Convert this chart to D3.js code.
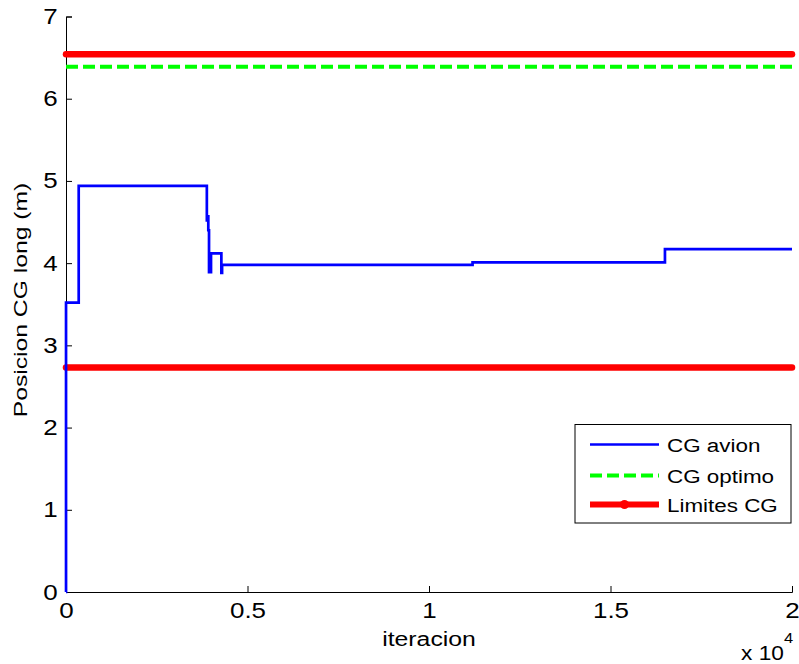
<!DOCTYPE html>
<html>
<head>
<meta charset="utf-8">
<script src="https://cdn.jsdelivr.net/npm/d3@7"></script>
<style>
  body { margin: 0; background: #fff; }
  svg { display: block; font-family: "Liberation Sans", Arial, sans-serif; }
</style>
</head>
<body>
<div id="chart"></div>
<script>
// CG avion: step changes (iteracion, posicion)
const cgIter = [0, 1, 350, 3880, 3900, 3920, 3940, 3995, 4280, 4300, 11200, 16500, 20000];
const cgVal  = [0, 3.52, 4.94, 4.52, 4.57, 4.40, 3.89, 4.12, 3.88, 3.98, 4.01, 4.17, 4.17];
const cgOptimo = 6.39;
const limites = [6.54, 2.73];
const xTicks = [0, 5000, 10000, 15000, 20000];
const xTickLabels = ["0", "0.5", "1", "1.5", "2"];
const yTicks = [0, 1, 2, 3, 4, 5, 6, 7];
const legendNames = ["CG avion", "CG optimo", "Limites CG"];

const width = 799, height = 664;
const m = {left: 66, right: 7, top: 16.5, bottom: 72};
const sx = 1.18; // text in the original is a bit wider than Liberation Sans

const svg = d3.select("#chart").append("svg")
  .attr("width", width).attr("height", height);

const x = d3.scaleLinear().domain([0, 20000]).range([m.left, width - m.right]);
const y = d3.scaleLinear().domain([0, 7]).range([height - m.bottom, m.top]);

// axes (ticks inward, MATLAB style, no box)
const xAxis = svg.append("g")
  .attr("transform", "translate(0," + y(0) + ")")
  .call(d3.axisBottom(x).tickValues(xTicks).tickSize(-6)
    .tickFormat((d, i) => xTickLabels[i]));
const yAxis = svg.append("g")
  .attr("transform", "translate(" + x(0) + ",0)")
  .call(d3.axisLeft(y).tickValues(yTicks).tickSize(-6).tickPadding(7)
    .tickFormat(d3.format("d")));
[xAxis, yAxis].forEach(g => {
  g.select(".domain").attr("stroke", "#000").attr("stroke-width", 1);
  g.selectAll(".tick line").attr("stroke", "#000");
  g.selectAll(".tick text").attr("fill", "#000").style("font-size", "22px")
    .attr("transform", "scale(" + sx + ",1)");
});
xAxis.selectAll(".tick text").attr("y", 26).attr("dy", 0);

// limit lines
svg.append("g").selectAll("line")
  .data(limites).enter().append("line")
    .attr("x1", x(0)).attr("x2", x(20000))
    .attr("y1", d => y(d)).attr("y2", d => y(d))
    .attr("stroke", "#ff0000").attr("stroke-width", 6.5)
    .attr("stroke-linecap", "round");

// optimum
svg.append("line")
  .attr("x1", x(0)).attr("x2", x(20000))
  .attr("y1", y(cgOptimo)).attr("y2", y(cgOptimo))
  .attr("stroke", "#00ff00").attr("stroke-width", 4)
  .attr("stroke-dasharray", "12,5");

// CG avion
const pts = cgIter.map((d, i) => [d, cgVal[i]]);
const line = d3.line().x(d => x(d[0])).y(d => y(d[1])).curve(d3.curveStepAfter);
svg.append("path")
  .datum(pts)
  .attr("d", line)
  .attr("fill", "none")
  .attr("stroke", "#0000ff")
  .attr("stroke-width", 2.7);

// labels
svg.append("text")
  .attr("transform", "translate(" + x(10000) + ",646) scale(" + sx + ",1)")
  .attr("text-anchor", "middle")
  .style("font-size", "21px")
  .text("iteracion");

svg.append("text")
  .attr("transform", "translate(27,300) rotate(-90) scale(1.3,1)")
  .attr("text-anchor", "middle")
  .style("font-size", "19px")
  .text("Posicion CG long (m)");

svg.append("text").attr("transform", "translate(741,660) scale(1.08,1)")
  .style("font-size", "21px").text("x 10");
svg.append("text").attr("transform", "translate(784,643) scale(1.1,1)")
  .style("font-size", "15px").text("4");

// legend
const lg = svg.append("g");
lg.append("rect")
  .attr("x", 575).attr("y", 424.5).attr("width", 216).attr("height", 98.5)
  .attr("fill", "#fff").attr("stroke", "#000").attr("stroke-width", 1);
const legendStyle = [
  {c: "#0000ff", w: 2.7, dash: null},
  {c: "#00ff00", w: 4, dash: "12,5"},
  {c: "#ff0000", w: 6, dash: null}
];
const ly = [444.5, 475.5, 504.5];
legendNames.forEach((name, i) => {
  const s = legendStyle[i];
  lg.append("line")
    .attr("x1", 590).attr("x2", 659).attr("y1", ly[i]).attr("y2", ly[i])
    .attr("stroke", s.c).attr("stroke-width", s.w)
    .attr("stroke-dasharray", s.dash);
  lg.append("text")
    .attr("transform", "translate(667," + (ly[i] + 7) + ") scale(" + sx + ",1)")
    .style("font-size", "19px")
    .text(name);
});
lg.append("circle").attr("cx", 624.5).attr("cy", ly[2]).attr("r", 4.5).attr("fill", "#ff0000");
</script>
</body>
</html>
